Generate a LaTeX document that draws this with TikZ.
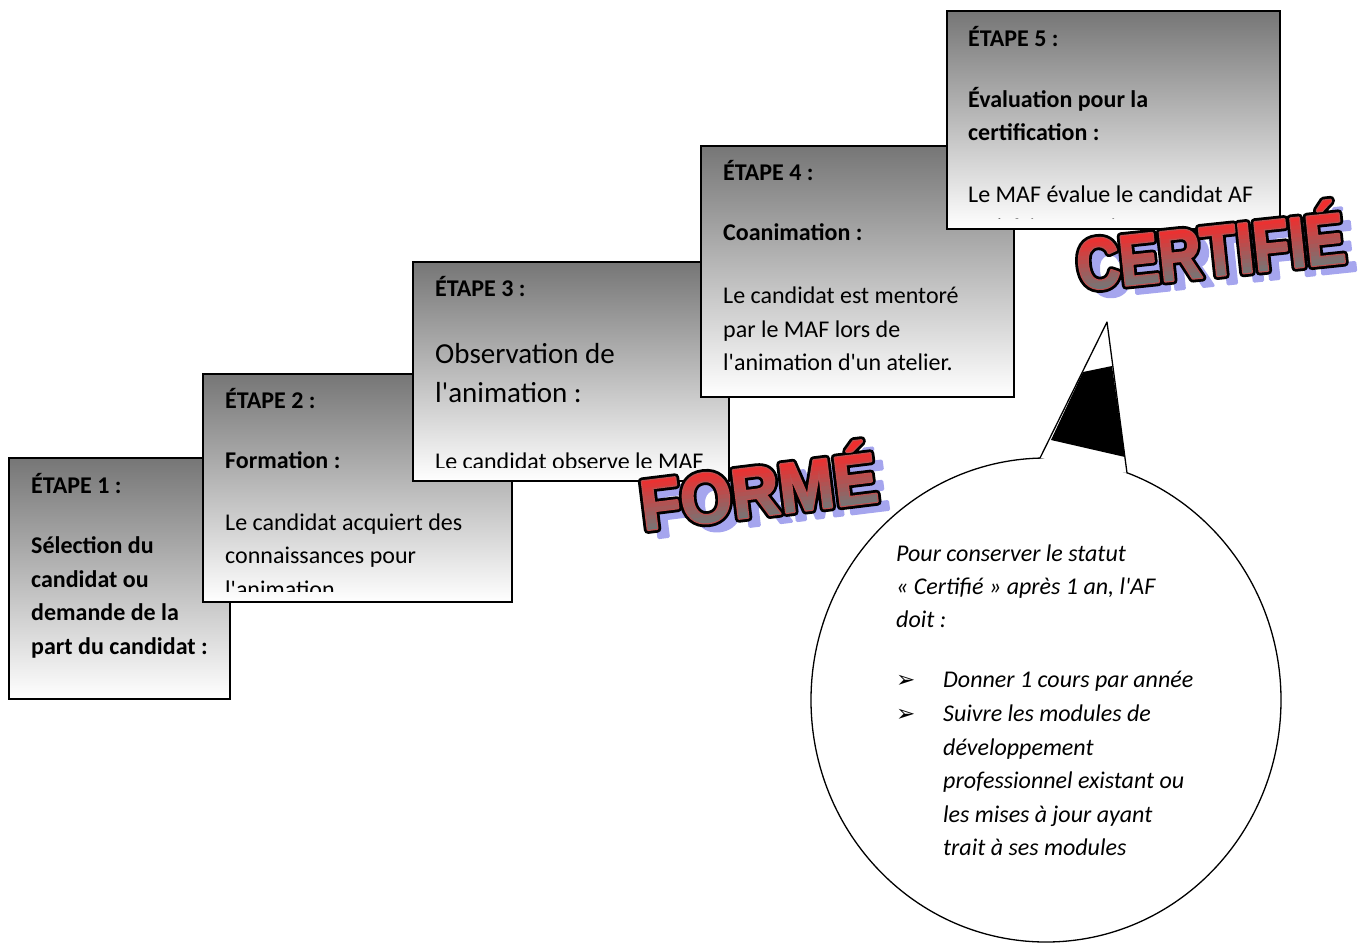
\documentclass[tikz,border=0pt]{standalone}
\usepackage{fontspec}
\setmainfont{Carlito}
\newfontfamily\symbfont{DejaVu Sans}
\newfontfamily\formefont{Liberation Sans}[FakeStretch=0.93]
\newfontfamily\certfont{Liberation Sans}[FakeStretch=0.82]
\usetikzlibrary{calc}
\definecolor{boxgray}{RGB}{118,118,118}
\definecolor{artring}{RGB}{190,80,80}
\definecolor{artshadow}{RGB}{165,165,238}
\newcommand{\apos}{\textquotesingle}
% relief : remplissage epaissi, contour noir, degrade rouge-gris dans la forme des lettres
\newcommand{\artfill}[1]{\special{pdf:literal direct 2 Tr 3 w 1 j}#1\special{pdf:literal direct 0 Tr}}
\newcommand{\artline}[1]{\special{pdf:literal direct 1 Tr 8 w 1 j}#1\special{pdf:literal direct 0 Tr}}
\newcommand{\artbands}{%
  \foreach \k in {0,...,19}{%
    \pgfmathsetmacro{\yb}{-6+4*\k}%
    \pgfmathsetmacro{\tt}{max(0,min(1,(\yb+2)/50))}%
    \pgfmathsetmacro{\cr}{0.46+0.48*\tt}%
    \pgfmathsetmacro{\cg}{0.46-0.28*\tt}%
    \special{pdf:literal q \cr\space\cg\space\cg\space rg -15 \yb\space 330 4.4 re f Q}%
  }}
\newcommand{\artgrad}[1]{\special{pdf:literal direct 6 Tr 2.4 w 1 j}\rlap{#1}\special{pdf:literal direct 0 Tr}\artbands\phantom{#1}}

\begin{document}
\begin{tikzpicture}[x=1pt,y=-1pt,
    box/.style={draw=black, line width=2.6pt, top color=boxgray, bottom color=white},
    txt/.style={anchor=base west, inner sep=0pt, text=black, font=\fontsize{24}{30}\selectfont},
    ttl/.style={txt, font=\fontsize{24}{30}\selectfont\bfseries},
    big/.style={txt, font=\fontsize{29}{36}\selectfont},
    ital/.style={txt, font=\fontsize{24}{30}\selectfont\itshape},
    arrowmark/.style={anchor=base west, inner sep=0pt, font=\symbfont\fontsize{23}{24}\selectfont},
    formeart/.style={inner sep=0pt, font=\formefont\bfseries\fontsize{71}{71}\selectfont},
    certart/.style={inner sep=0pt, font=\certfont\bfseries\fontsize{72}{72}\selectfont}]
  \useasboundingbox (0,0) rectangle (1361,943);

  % etape 1
  \draw[box] (9,458) rectangle (230,699);
  \node[ttl] (e1a) at (31,493) {ÉTAPE 1 :};
  \node[ttl] (e1b) at (31,553) {Sélection du};
  \node[ttl] (e1c) at (31,587) {candidat ou};
  \node[ttl] (e1d) at (31,620) {demande de la};
  \node[ttl] (e1e) at (31,654) {part du candidat :};

  % etape 2
  \draw[box] (203,374) rectangle (512,602);
  \begin{scope}
    \clip (203,374) rectangle (512,591);
    \node[ttl] (e2a) at (225,408) {ÉTAPE 2 :};
    \node[ttl] (e2b) at (225,468) {Formation :};
    \node[txt] (e2c) at (225,530) {Le candidat acquiert des};
    \node[txt] (e2d) at (225,563) {connaissances pour};
    \node[txt] (e2e) at (225,597) {l\apos animation};
  \end{scope}

  % etape 3
  \draw[box] (413,262) rectangle (729,481);
  \begin{scope}
    \clip (413,262) rectangle (729,467);
    \node[ttl] (e3a) at (435,296) {ÉTAPE 3 :};
    \node[big] (e3b) at (435,363) {Observation de};
    \node[big] (e3c) at (435,402) {l\apos animation :};
    \node[txt] (e3d) at (435,469) {Le candidat observe le MAF};
  \end{scope}

  % etape 4
  \draw[box] (701,146) rectangle (1014,397);
  \node[ttl] (e4a) at (723,180) {ÉTAPE 4 :};
  \node[ttl] (e4b) at (723,240) {Coanimation :};
  \node[txt] (e4c) at (723,303) {Le candidat est mentoré};
  \node[txt] (e4d) at (723,337) {par le MAF lors de};
  \node[txt] (e4e) at (723,370) {l\apos animation d\apos un atelier.};

  % etape 5
  \draw[box] (947,11) rectangle (1280,229);
  \begin{scope}
    \clip (947,11) rectangle (1280,218);
    \node[ttl] (e5a) at (968,46) {ÉTAPE 5 :};
    \node[ttl] (e5b) at (968,107) {Évaluation pour la};
    \node[ttl] (e5c) at (968,140) {certification :};
    \node[txt] (e5d) at (968,202) {Le MAF évalue le candidat AF};
    \node[txt] (e5e) at (968,235) {satisfait aux exigences};
  \end{scope}

  % mots en relief
  \coordinate (fc) at (758,485);
  \begin{scope}[transform canvas={rotate around={7:(fc)}}]
    \node[formeart, text=artshadow] (fs) at ($(fc)+(10,9)$) {\artfill{FORMÉ}};
    \node[formeart] (fo) at (fc) {\artline{FORMÉ}};
    \node[formeart, text=artring] (fg) at (fc) {\artgrad{FORMÉ}};
  \end{scope}
  \coordinate (cc) at (1210,245);
  \begin{scope}[transform canvas={rotate around={6:(cc)}}]
    \node[certart, text=artshadow] (cs) at ($(cc)+(10,9)$) {\artfill{CERTIFIÉ}};
    \node[certart] (co) at (cc) {\artline{CERTIFIÉ}};
    \node[certart, text=artring] (cg) at (cc) {\artgrad{CERTIFIÉ}};
  \end{scope}

  % bulle
  \draw[fill=white, line width=1.3pt] (1046,700) ellipse [x radius=235, y radius=242];
  \coordinate (tl) at (1040,458);
  \coordinate (tr) at (1127,473);
  \coordinate (tip) at (1107,322);
  \fill[white] (tl) -- (tip) -- (tr) -- cycle;
  \fill[black] (1083,372) -- (1112,366) -- (1125,457) -- (1051,440) -- cycle;
  \draw[line width=1.3pt, line join=round] (tl) -- (tip) -- (tr);

  \node[ital] (p1) at (896,561) {Pour conserver le statut};
  \node[ital] (p2) at (896,594) {« Certifié » après 1 an, l\apos AF};
  \node[ital] (p3) at (896,627) {doit :};
  \node[arrowmark] (m1) at (896,687) {➢};
  \node[arrowmark] (m2) at (896,721) {➢};
  \node[ital] (l1) at (943,687) {Donner 1 cours par année};
  \node[ital] (l2) at (943,721) {Suivre les modules de};
  \node[ital] (l3) at (943,755) {développement};
  \node[ital] (l4) at (943,788) {professionnel existant ou};
  \node[ital] (l5) at (943,822) {les mises à jour ayant};
  \node[ital] (l6) at (943,855) {trait à ses modules};
\end{tikzpicture}
\end{document}
